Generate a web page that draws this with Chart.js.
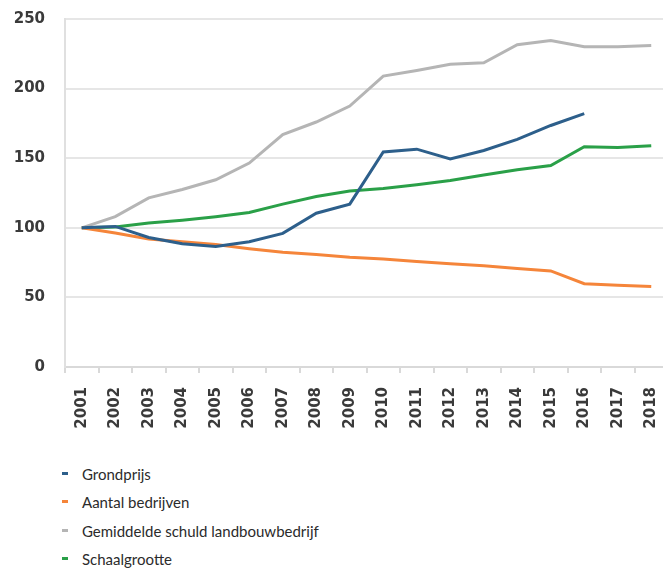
<!DOCTYPE html>
<html>
<head>
<meta charset="utf-8">
<script src="https://cdn.jsdelivr.net/npm/chart.js@4.4.0/dist/chart.umd.min.js"></script>
<style>
  html, body { margin: 0; padding: 0; background: #fff; overflow: hidden; }
  #wrap { position: relative; width: 670px; height: 440px; }
  #legend { position: absolute; left: 62px; top: 462px; font-family: Lato, "Open Sans", sans-serif; font-size: 15px; color: #2b2b2b; }
  #legend div { height: 28.3px; line-height: 24px; position: relative; padding-left: 20px; }
  #legend span { position: absolute; left: 0; top: 10px; width: 6px; height: 3px; }
</style>
</head>
<body>
<div id="wrap"><canvas id="grafico"></canvas></div>
<div id="legend"></div>
<script>
var jaren = ["2001", "2002", "2003", "2004", "2005", "2006", "2007", "2008", "2009",
    "2010", "2011", "2012", "2013", "2014", "2015", "2016", "2017", "2018"];

var grondprijs = [100, 101, 93, 88.5, 86.5, 90, 96, 110.5, 117, 154.5, 156.5, 149.5, 155.5, 163.5, 173.5, 182, null, null];
var aantalBedrijven = [100, 96.2, 92, 90, 88, 85, 82.5, 80.8, 78.8, 77.6, 75.8, 74.1, 72.7, 70.8, 69, 59.8, 58.8, 57.8];
var schuld = [100, 108, 121.5, 127.5, 134.5, 146.5, 167, 176, 187.5, 209, 213, 217.5, 218.5, 231.5, 234.5, 230, 230, 231];
var schaalgrootte = [100, 100.5, 103.5, 105.5, 108, 111, 117, 122.5, 126.5, 128.2, 131, 134, 138, 141.7, 144.8, 158.3, 157.7, 159];

var series = [
    { label: "Grondprijs", data: grondprijs, color: "#2d5f8b" },
    { label: "Aantal bedrijven", data: aantalBedrijven, color: "#f5853a" },
    { label: "Gemiddelde schuld landbouwbedrijf", data: schuld, color: "#b5b5b5" },
    { label: "Schaalgrootte", data: schaalgrootte, color: "#2aa048" }
];

var tickFont = { family: "'DejaVu Sans', sans-serif", size: 15, weight: 'bold' };

var ctx = document.getElementById("grafico");

var myChart = new Chart(ctx, {
    type: 'line',
    data: {
        labels: jaren,
        datasets: series.map(function (s) {
            return {
                label: s.label,
                data: s.data,
                borderColor: s.color,
                backgroundColor: s.color,
                borderWidth: 3,
                pointRadius: 0,
                tension: 0
            };
        })
    },
    options: {
        responsive: true,
        maintainAspectRatio: false,
        animation: false,
        layout: { padding: { left: 14, top: 19, right: 2, bottom: 0 } },
        plugins: {
            legend: { display: false },
            tooltip: { enabled: false }
        },
        scales: {
            x: {
                offset: true,
                grid: {
                    offset: true,
                    drawOnChartArea: false,
                    drawTicks: true,
                    tickLength: 6,
                    color: '#d9d9d9',
                    lineWidth: 2
                },
                border: { color: '#d9d9d9', width: 2 },
                ticks: {
                    minRotation: 90,
                    maxRotation: 90,
                    autoSkip: false,
                    padding: 14,
                    color: '#3a3a3a',
                    font: tickFont
                },
                afterFit: function (scale) {
                    scale.height = 73;
                    scale.paddingLeft = 0;
                    scale.paddingRight = 0;
                }
            },
            y: {
                min: 0,
                max: 250,
                grid: { color: '#e6e6e6', lineWidth: 2, drawTicks: false },
                border: { color: '#e0e0e0', width: 2 },
                ticks: {
                    stepSize: 50,
                    padding: 20,
                    color: '#3a3a3a',
                    font: tickFont
                },
                afterFit: function (scale) {
                    scale.width = 51;
                    scale.paddingTop = 0;
                    scale.paddingBottom = 0;
                }
            }
        }
    }
});

var legend = document.getElementById("legend");
series.forEach(function (s) {
    var item = document.createElement("div");
    var mark = document.createElement("span");
    mark.style.background = s.color;
    item.appendChild(mark);
    item.appendChild(document.createTextNode(s.label));
    legend.appendChild(item);
});
</script>
</body>
</html>
